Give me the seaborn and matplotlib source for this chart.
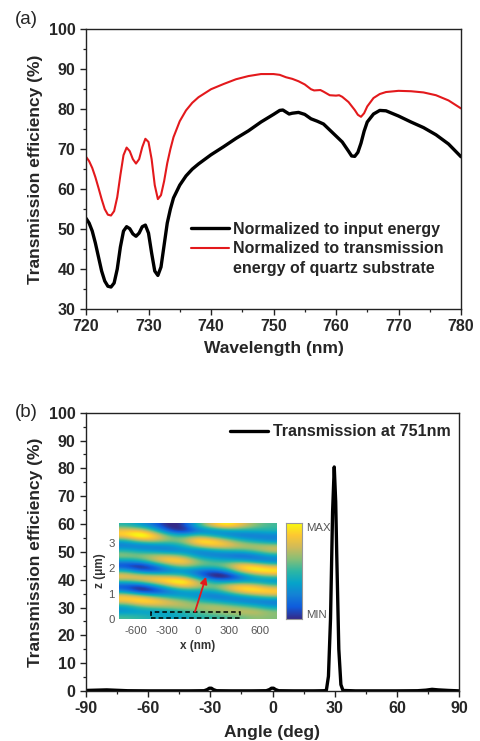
import numpy as np
import pandas as pd
import matplotlib
matplotlib.use("Agg")
import matplotlib.pyplot as plt
from matplotlib.lines import Line2D
from matplotlib.patches import Rectangle
from matplotlib.colors import LinearSegmentedColormap
from matplotlib.ticker import MultipleLocator
import seaborn as sns

# ---------------- data: panel (a) ----------------
wl_black = [720, 720.5, 721, 721.5, 722, 722.5, 723, 723.5, 724, 724.5, 725, 725.5, 726, 726.5,
            727, 727.5, 728, 728.5, 729, 729.5, 730, 730.5, 731, 731.5, 732, 732.5, 733, 733.5,
            734, 735, 736, 737, 738, 740, 742, 744, 746, 748, 750, 751, 751.5, 752, 752.5, 753,
            754, 755, 756, 757, 758, 759, 760, 761, 762, 762.5, 763, 763.5, 764, 764.5, 765, 766,
            767, 768, 770, 772, 774, 776, 778, 780]
t_black = [52.7, 51.5, 49.5, 46.5, 43.0, 39.5, 37.0, 35.7, 35.5, 36.5, 40.0, 45.5, 49.5, 50.6,
           50.1, 48.8, 48.2, 49.0, 50.6, 51.0, 49.0, 44.0, 39.5, 38.4, 40.5, 46.0, 51.5, 55.0,
           57.8, 61.0, 63.3, 65.0, 66.3, 68.6, 70.6, 72.7, 74.6, 76.8, 78.7, 79.7, 79.8, 79.3,
           78.8, 79.0, 79.2, 78.7, 77.6, 77.0, 76.3, 74.8, 73.3, 71.8, 69.5, 68.3, 68.2, 69.2,
           71.5, 74.5, 76.8, 78.8, 79.7, 79.6, 78.3, 76.8, 75.4, 73.6, 71.3, 68.1]

wl_red = [720, 720.5, 721, 721.5, 722, 722.5, 723, 723.5, 724, 724.5, 725, 725.5, 726, 726.5,
          727, 727.5, 728, 728.5, 729, 729.5, 730, 730.5, 731, 731.5, 732, 732.5, 733, 733.5,
          734, 735, 736, 737, 738, 740, 742, 744, 746, 748, 750, 751, 752, 753, 754, 755, 756,
          756.5, 757.5, 758, 759, 760, 760.5, 761, 762, 763, 763.5, 764, 764.5, 765, 766, 767,
          768, 770, 772, 774, 776, 778, 780]
t_red = [68.1, 67.0, 65.3, 63.0, 60.3, 57.5, 55.0, 53.6, 53.4, 54.5, 58.0, 63.5, 68.5, 70.4,
         69.5, 67.5, 66.4, 67.5, 70.5, 72.6, 71.8, 67.5, 61.0, 57.5, 58.5, 62.0, 66.5, 70.0,
         73.0, 77.0, 79.7, 81.6, 83.0, 85.0, 86.3, 87.5, 88.3, 88.8, 88.8, 88.6, 88.0, 87.6,
         87.0, 86.2, 85.0, 84.7, 84.8, 84.4, 83.5, 83.4, 83.5, 83.1, 81.8, 79.8, 78.6, 78.1,
         79.0, 80.7, 82.8, 83.8, 84.3, 84.6, 84.5, 84.2, 83.5, 82.2, 80.2]

label_black = "Normalized to input energy"
label_red_1 = "Normalized to transmission"
label_red_2 = "energy of quartz substrate"

# ---------------- data: panel (b) ----------------
angle = [-90, -85, -80, -75, -70, -60, -50, -40, -33, -31.5, -30.5, -29.5, -28.5, -27, -20, -10,
         -3, -1.5, -0.5, 0.5, 1.5, 3, 10, 20, 25, 26, 27, 28, 29, 29.8, 30.5, 31, 32, 33, 34,
         40, 50, 60, 70, 74, 77, 80, 85, 90]
t_angle = [0.2, 0.3, 0.4, 0.25, 0.1, 0.05, 0.05, 0.05, 0.1, 0.5, 1.0, 1.0, 0.5, 0.1, 0.05, 0.05,
           0.1, 0.5, 1.0, 1.0, 0.5, 0.1, 0.05, 0.05, 0.1, 0.3, 5.3, 26.0, 64.5, 80.5, 68.0, 49.0,
           15.0, 2.3, 0.2, 0.05, 0.05, 0.05, 0.1, 0.3, 0.6, 0.4, 0.2, 0.05]
label_angle = "Transmission at 751nm"

# ---------------- data: inset field map (coarse reading, rows top z=3.7 -> bottom z=0.1) ----
field_x = [-700, -560, -420, -280, -140, 0, 140, 280, 420, 560, 700]
field_z = [3.7, 3.5, 3.3, 3.1, 2.9, 2.7, 2.5, 2.3, 2.1, 1.9, 1.7, 1.5, 1.3, 1.1, 0.9, 0.7, 0.5, 0.3, 0.1]
field = [
    [0.50, 0.41, 0.30, 0.14, 0.20, 0.51, 0.76, 0.89, 0.74, 0.60, 0.54],
    [0.77, 0.77, 0.53, 0.23, 0.13, 0.30, 0.33, 0.41, 0.46, 0.48, 0.50],
    [0.80, 0.99, 0.84, 0.58, 0.49, 0.59, 0.46, 0.35, 0.30, 0.31, 0.34],
    [0.45, 0.64, 0.69, 0.61, 0.64, 0.90, 0.85, 0.68, 0.52, 0.43, 0.36],
    [0.31, 0.30, 0.33, 0.37, 0.47, 0.67, 0.79, 0.78, 0.70, 0.68, 0.66],
    [0.52, 0.44, 0.39, 0.33, 0.35, 0.32, 0.40, 0.47, 0.50, 0.59, 0.71],
    [0.65, 0.64, 0.69, 0.69, 0.59, 0.39, 0.33, 0.30, 0.25, 0.30, 0.42],
    [0.40, 0.46, 0.67, 0.84, 0.85, 0.62, 0.53, 0.49, 0.48, 0.36, 0.32],
    [0.20, 0.10, 0.26, 0.50, 0.65, 0.57, 0.57, 0.65, 0.87, 0.82, 0.67],
    [0.51, 0.30, 0.23, 0.31, 0.36, 0.30, 0.24, 0.38, 0.73, 0.89, 0.90],
    [0.80, 0.76, 0.71, 0.65, 0.57, 0.34, 0.10, 0.09, 0.30, 0.49, 0.59],
    [0.54, 0.64, 0.79, 0.90, 0.94, 0.68, 0.43, 0.37, 0.40, 0.39, 0.35],
    [0.21, 0.15, 0.35, 0.60, 0.78, 0.70, 0.59, 0.75, 0.84, 0.76, 0.61],
    [0.39, 0.15, 0.16, 0.30, 0.40, 0.44, 0.43, 0.59, 0.80, 0.87, 0.85],
    [0.80, 0.72, 0.56, 0.46, 0.41, 0.37, 0.30, 0.32, 0.41, 0.52, 0.61],
    [0.75, 0.88, 0.85, 0.73, 0.64, 0.54, 0.47, 0.40, 0.33, 0.30, 0.31],
    [0.42, 0.56, 0.64, 0.66, 0.68, 0.65, 0.69, 0.64, 0.58, 0.50, 0.40],
    [0.38, 0.40, 0.40, 0.43, 0.51, 0.57, 0.63, 0.67, 0.70, 0.70, 0.62],
    [0.55, 0.52, 0.48, 0.44, 0.45, 0.50, 0.51, 0.54, 0.57, 0.62, 0.60],
]
inset_xticks = [-600, -300, 0, 300, 600]
inset_zticks = [0, 1, 2, 3]

# ---------------- style ----------------
sns.set_style("ticks")
plt.rcParams["font.family"] = ["Liberation Sans", "DejaVu Sans"]
plt.rcParams["axes.unicode_minus"] = False
plt.rcParams["axes.edgecolor"] = "#222222"
plt.rcParams["axes.linewidth"] = 1.0

parula = LinearSegmentedColormap.from_list(
    "parula_like",
    ["#352a87", "#0f5cdd", "#1481d6", "#06a4ca", "#2eb7a4",
     "#87bf77", "#d1bb59", "#fec832", "#f9fb0e"])

fig = plt.figure(figsize=(4.81, 7.41), dpi=100)

TICK_FS = 11.5
LABEL_FS = 12.5


def style_axis(ax):
    ax.tick_params(which="major", direction="out", length=4, width=1.0,
                   labelsize=TICK_FS, pad=3.5, color="#222222")
    ax.tick_params(which="minor", direction="out", length=2.5, width=0.9, color="#222222")
    for lab in ax.get_xticklabels() + ax.get_yticklabels():
        lab.set_fontweight("bold")
    for s in ax.spines.values():
        s.set_visible(True)
        s.set_linewidth(1.0)
        s.set_color("#222222")


# ---------------- panel (a) ----------------
ax1 = fig.add_axes([86 / 481, 1 - 309 / 741, 375 / 481, 279.7 / 741])
dfa = pd.DataFrame({"wl": wl_black, "t": t_black})
dfr = pd.DataFrame({"wl": wl_red, "t": t_red})
sns.lineplot(data=dfa, x="wl", y="t", ax=ax1, color="black", linewidth=2.4)
sns.lineplot(data=dfr, x="wl", y="t", ax=ax1, color="#e3191c", linewidth=1.5)
ax1.set_xlim(720, 780)
ax1.set_ylim(30, 100)
ax1.xaxis.set_major_locator(MultipleLocator(10))
ax1.xaxis.set_minor_locator(MultipleLocator(5))
ax1.yaxis.set_major_locator(MultipleLocator(10))
ax1.yaxis.set_minor_locator(MultipleLocator(5))
ax1.set_xlabel("Wavelength (nm)", fontsize=LABEL_FS, fontweight="bold", labelpad=5)
ax1.set_ylabel("Transmission efficiency (%)", fontsize=LABEL_FS, fontweight="bold", labelpad=4)
style_axis(ax1)
handles = [Line2D([], [], color="black", lw=2.4),
           Line2D([], [], color="#e3191c", lw=1.5),
           Line2D([], [], color="none")]
leg = ax1.legend(handles, [label_black, label_red_1, label_red_2], loc="center left",
                 bbox_to_anchor=(0.28, 0.215), frameon=False, borderpad=0, borderaxespad=0,
                 handlelength=2.35, handletextpad=0.3, labelspacing=0.28,
                 prop={"weight": "bold", "size": 11.5})
fig.text(15 / 481, 1 - 20 / 741, "(a)", fontsize=13.5, ha="left", va="center")

# ---------------- panel (b) ----------------
ax2 = fig.add_axes([86 / 481, 1 - 691 / 741, 373 / 481, 278.3 / 741])
dfb = pd.DataFrame({"angle": angle, "t": t_angle})
sns.lineplot(data=dfb, x="angle", y="t", ax=ax2, color="black", linewidth=2.4)
ax2.set_xlim(-90, 90)
ax2.set_ylim(0, 100)
ax2.xaxis.set_major_locator(MultipleLocator(30))
ax2.xaxis.set_minor_locator(MultipleLocator(15))
ax2.yaxis.set_major_locator(MultipleLocator(10))
ax2.yaxis.set_minor_locator(MultipleLocator(5))
ax2.set_xlabel("Angle (deg)", fontsize=LABEL_FS, fontweight="bold", labelpad=6)
ax2.set_ylabel("Transmission efficiency (%)", fontsize=LABEL_FS, fontweight="bold", labelpad=4)
style_axis(ax2)
ax2.legend([Line2D([], [], color="black", lw=2.4)], [label_angle], loc="center left",
           bbox_to_anchor=(0.386, 0.932), frameon=False, borderpad=0, borderaxespad=0,
           handlelength=2.35, handletextpad=0.35, prop={"weight": "bold", "size": 11.5})
fig.text(15 / 481, 1 - 412.7 / 741, "(b)", fontsize=13.5, ha="left", va="center")

# ---------------- inset ----------------
axi = fig.add_axes([119 / 481, 1 - 619 / 741, 158 / 481, 96 / 741])
dx = (field_x[1] - field_x[0]) / 2
dz = (field_z[0] - field_z[1]) / 2
axi.imshow(np.array(field), cmap=parula, vmin=0.18, vmax=0.86, aspect="auto",
           interpolation="bicubic",
           extent=[field_x[0] - dx, field_x[-1] + dx, field_z[-1] - dz, field_z[0] + dz])
axi.set_xlim(-760, 760)
axi.set_ylim(0, 3.8)
axi.set_xticks(inset_xticks)
axi.set_yticks(inset_zticks)
axi.tick_params(length=0, labelsize=8.2, labelcolor="#555555", pad=5)
axi.tick_params(axis="y", pad=3)
for s in axi.spines.values():
    s.set_visible(False)
axi.set_xlabel("x (nm)", fontsize=8.5, fontweight="bold", color="#333333", labelpad=3)
axi.set_ylabel("z (μm)", fontsize=8.5, fontweight="bold", color="#333333", labelpad=2)
axi.add_patch(Rectangle((-455, 0.04), 859, 0.23, fill=False, edgecolor="black",
                        linestyle=(0, (3, 2)), linewidth=1.1))
axi.annotate("", xy=(77, 1.67), xytext=(-29, 0.29),
             arrowprops=dict(arrowstyle="-|>", color="#e3191c", lw=1.3,
                             mutation_scale=10, shrinkA=0, shrinkB=0))

cax = fig.add_axes([286 / 481, 1 - 619 / 741, 16 / 481, 96 / 741])
grad = np.linspace(0, 1, 256).reshape(-1, 1)
cax.imshow(grad, cmap=parula, aspect="auto", origin="lower", extent=[0, 1, 0, 1])
cax.set_xticks([])
cax.yaxis.tick_right()
cax.set_yticks([0.05, 0.96])
cax.set_yticklabels(["MIN", "MAX"])
cax.tick_params(length=0, labelsize=8.2, labelcolor="#555555", pad=3)
for s in cax.spines.values():
    s.set_color("#999999")
    s.set_linewidth(0.8)

fig.savefig("out.png", dpi=100)
